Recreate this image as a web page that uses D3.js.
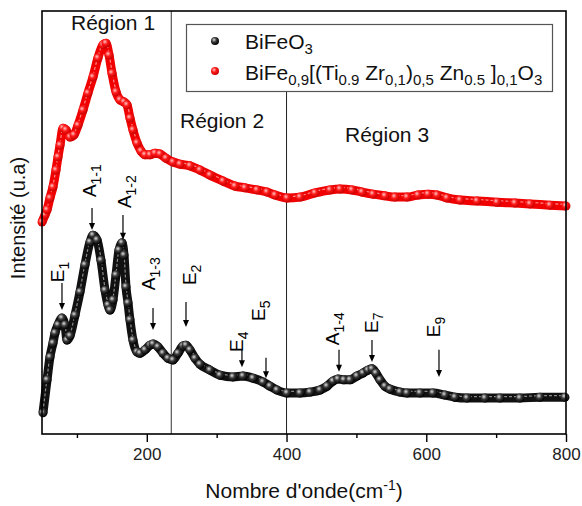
<!DOCTYPE html>
<html>
<head>
<meta charset="utf-8">
<script src="https://cdn.jsdelivr.net/npm/d3@7"></script>
<style>
  html, body { margin: 0; padding: 0; background: #fff; }
  svg { display: block; font-family: Arial, "Liberation Sans", sans-serif; }
</style>
</head>
<body>
<svg id="chart" width="582" height="506"></svg>
<script>
// Raman spectra: wavenumber (cm-1) vs intensity (arbitrary units)
const bfoWave = [51.4, 57.2, 61.4, 65.7, 68.6, 72.9, 78.6, 82.9, 85.8, 90.1, 97.2, 104.4, 111.5, 118.7, 123.0,
  128.7, 134.4, 140.2, 144.5, 147.3, 151.6, 155.9, 160.2, 164.5, 167.4, 170.2, 173.1, 175.9, 180.2, 186.0,
  190.3, 197.4, 204.6, 208.9, 216.0, 223.2, 230.3, 237.5, 244.6, 251.8, 256.1, 261.8, 269.0, 276.1, 290.4,
  304.8, 323.4, 337.7, 352.0, 366.3, 376.3, 386.3, 400.7, 419.3, 433.6, 447.9, 457.9, 466.5, 473.6, 482.2,
  490.8, 500.8, 509.4, 516.6, 522.3, 528.0, 533.8, 540.9, 548.1, 562.4, 572.4, 591.0, 609.6, 626.8, 641.1,
  658.3, 684.0, 705.5, 734.1, 762.7, 798.5];
const bfoInt = [5.0, 12.8, 18.2, 21.5, 23.9, 25.8, 27.4, 25.8, 22.2, 23.2, 28.1, 33.6, 40.0, 45.4, 47.0,
  45.9, 41.1, 34.0, 30.5, 29.3, 31.7, 37.6, 43.5, 45.2, 42.3, 34.8, 31.0, 27.0, 22.2, 19.4,
  19.1, 19.9, 21.0, 21.3, 20.6, 19.1, 17.9, 17.5, 19.1, 20.8, 21.0, 19.9, 17.9, 16.5, 15.1,
  13.9, 13.5, 13.7, 13.2, 12.3, 11.3, 10.4, 9.7, 9.7, 9.9, 10.4, 11.3, 12.5, 13.0, 12.8,
  12.8, 13.7, 14.4, 15.1, 15.4, 14.4, 12.8, 11.3, 10.6, 9.9, 9.7, 9.7, 9.7, 9.2, 8.7,
  8.5, 8.5, 8.5, 8.5, 8.7, 8.7];

const dopedWave = [50.0, 54.3, 57.2, 61.4, 65.7, 70.0, 72.9, 75.8, 80.1, 84.3, 90.1, 95.8, 101.5, 108.7, 115.8,
  123.0, 130.1, 137.3, 141.6, 145.9, 150.2, 155.9, 161.6, 167.4, 171.7, 175.9, 180.2, 186.0, 191.7, 197.4,
  204.6, 211.7, 218.9, 227.5, 237.5, 247.5, 261.8, 276.1, 290.4, 309.1, 326.2, 340.5, 357.7, 372.0, 383.5,
  400.7, 419.3, 440.7, 462.2, 476.5, 493.7, 508.0, 523.7, 540.9, 555.2, 572.4, 588.1, 602.5, 615.3, 629.6,
  648.3, 672.6, 701.2, 726.9, 748.4, 777.0, 799.9];
const dopedInt = [50.1, 51.8, 53.0, 55.8, 58.4, 62.4, 65.5, 68.3, 72.3, 71.9, 70.2, 70.7, 73.0, 76.6, 80.6,
  84.4, 88.9, 92.0, 92.4, 89.6, 85.3, 80.9, 79.0, 78.5, 77.8, 74.7, 71.9, 68.8, 66.9, 66.0,
  66.0, 66.4, 66.2, 65.2, 64.3, 63.8, 63.4, 62.4, 61.2, 59.8, 58.6, 58.2, 57.7, 57.2, 56.5,
  55.8, 56.0, 57.0, 57.7, 57.9, 57.7, 57.2, 56.7, 56.3, 56.0, 56.0, 56.5, 56.7, 56.5, 55.8,
  55.3, 55.1, 54.8, 54.6, 54.4, 54.1, 53.9];

// Phonon mode assignments: base label, subscript, wavenumber, arrow tail/tip and label start (intensity units)
const modeNames = ["E", "A", "A", "A", "E", "E", "E", "A", "E", "E"];
const modeSubs  = ["1", "1-1", "1-2", "1-3", "2", "4", "5", "1-4", "7", "9"];
const modeWave  = [78.6, 121.6, 165.9, 208.9, 256.1, 336.2, 370.6, 475.1, 522.3, 618.2];
const modeTail  = [35.7, 53.4, 51.8, 29.8, 31.2, 19.9, 18.0, 19.9, 22.2, 19.9];
const modeTip   = [29.3, 48.2, 45.9, 24.6, 25.3, 15.8, 13.2, 14.7, 17.0, 13.5];
const modeLabel = [35.9, 56.0, 53.4, 34.0, 35.2, 19.4, 26.7, 21.0, 23.9, 22.9];
// horizontal shift (px) of each rotated label's baseline from its arrow
const modeLabelDx = [2, 4, 8, 2, 10, 1, -1, 0, 6, 1];

// Spectral regions, separated at these wavenumbers
const regionNames = ["Région 1", "Région 2", "Région 3"];
const regionBounds = [235, 400];

const xTicksMajor = [200, 400, 600, 800];
const xTicksMinor = [100, 300, 500, 700];

const svg = d3.select("#chart");
const W = 582, H = 506;
const m = { left: 42, right: 16, top: 11, bottom: 72 };
const x = d3.scaleLinear().domain([50, 800]).range([m.left, W - m.right]);
const y = d3.scaleLinear().domain([0, 100]).range([H - m.bottom, m.top]);

// sphere-like marker gradients
const defs = svg.append("defs");
function sphere(id, hi, mid, lo) {
  const g = defs.append("radialGradient").attr("id", id)
    .attr("cx", "38%").attr("cy", "35%").attr("r", "65%");
  g.append("stop").attr("offset", "0%").attr("stop-color", hi);
  g.append("stop").attr("offset", "45%").attr("stop-color", mid);
  g.append("stop").attr("offset", "100%").attr("stop-color", lo);
}
sphere("ballBlack", "#e0e0e0", "#3a3a3a", "#000");
sphere("ballRed", "#ffc4c4", "#ff1a1a", "#c80000");

// region separators
svg.append("line")
  .attr("x1", x(regionBounds[0])).attr("x2", x(regionBounds[0]))
  .attr("y1", y(100)).attr("y2", y(0))
  .attr("stroke", "#333").attr("stroke-width", 1);
svg.append("line")
  .attr("x1", x(regionBounds[1])).attr("x2", x(regionBounds[1]))
  .attr("y1", 91).attr("y2", y(0))
  .attr("stroke", "#222").attr("stroke-width", 1);

// spectra drawn as dense marker bands
function drawSeries(wave, inten, fill, band, shine) {
  const pts = wave.map((w, i) => [w, inten[i]]);
  const line = d3.line().x(d => x(d[0])).y(d => y(d[1])).curve(d3.curveMonotoneX);
  const g = svg.append("g");
  g.append("path").attr("d", line(pts)).attr("fill", "none")
    .attr("stroke", band).attr("stroke-width", 9).attr("stroke-linejoin", "round");
  g.append("path").attr("d", line(pts)).attr("fill", "none")
    .attr("stroke", shine).attr("stroke-width", 1.2).attr("stroke-dasharray", "3,2")
    .attr("transform", "translate(0,-1.5)");
  g.selectAll("circle").data(pts).join("circle")
    .attr("cx", d => x(d[0])).attr("cy", d => y(d[1])).attr("r", 4.5)
    .attr("fill", fill);
}
drawSeries(dopedWave, dopedInt, "url(#ballRed)", "#f00000", "#ff8a8a");
drawSeries(bfoWave, bfoInt, "url(#ballBlack)", "#111", "#8a8a8a");

// mode annotations: rotated labels and down-pointing arrows
const ann = svg.append("g");
modeNames.forEach((name, i) => {
  const ax = x(modeWave[i]);
  const t = y(modeTail[i]), tip = y(modeTip[i]);
  ann.append("line").attr("x1", ax).attr("x2", ax).attr("y1", t).attr("y2", tip - 5)
    .attr("stroke", "#000").attr("stroke-width", 1.2);
  ann.append("path")
    .attr("d", `M${ax - 3},${tip - 7} L${ax + 3},${tip - 7} L${ax},${tip} Z`)
    .attr("fill", "#000");
  const lx = ax + modeLabelDx[i], ly = y(modeLabel[i]);
  const tx = ann.append("text").attr("transform", `translate(${lx},${ly}) rotate(-90)`)
    .attr("font-size", 19).attr("fill", "#000");
  tx.append("tspan").text(name);
  tx.append("tspan").attr("font-size", 14).attr("dy", 5).text(modeSubs[i]);
});

// region labels
const regionPos = [[71, 30], [180, 128], [345, 142]];
regionNames.forEach((r, i) => {
  svg.append("text").attr("x", regionPos[i][0]).attr("y", regionPos[i][1])
    .attr("font-size", 21).attr("fill", "#111").text(r);
});

// legend
const lg = svg.append("g");
lg.append("rect").attr("x", 186.5).attr("y", 24.5).attr("width", 366).attr("height", 67)
  .attr("fill", "#fff").attr("stroke", "#555").attr("stroke-width", 1.2);
lg.append("circle").attr("cx", 215).attr("cy", 41).attr("r", 4).attr("fill", "url(#ballBlack)");
lg.append("circle").attr("cx", 215).attr("cy", 71).attr("r", 4).attr("fill", "url(#ballRed)");
const l1 = lg.append("text").attr("x", 245).attr("y", 49).attr("font-size", 21).attr("fill", "#111");
l1.append("tspan").text("BiFeO");
l1.append("tspan").attr("font-size", 15).attr("dy", 5).text("3");
const l2 = lg.append("text").attr("x", 245).attr("y", 80).attr("font-size", 21).attr("fill", "#111");
const parts2 = [["BiFe", 0], ["0,9", 1], ["[(Ti", 0], ["0.9", 1], [" Zr", 0], ["0,1", 1], [")", 0], ["0,5", 1],
  [" Zn", 0], ["0.5", 1], [" ]", 0], ["0,1", 1], ["O", 0], ["3", 1]];
let low = false;
parts2.forEach(([s, sub]) => {
  const ts = l2.append("tspan").text(s);
  if (sub) { ts.attr("font-size", 15).attr("dy", low ? 0 : 5); low = true; }
  else { ts.attr("dy", low ? -5 : 0); low = false; }
});

// frame
svg.append("rect").attr("x", m.left).attr("y", m.top)
  .attr("width", W - m.right - m.left).attr("height", H - m.bottom - m.top)
  .attr("fill", "none").attr("stroke", "#000").attr("stroke-width", 1.6);

// x axis: labelled major ticks and unlabelled minor ticks
const axMajor = svg.append("g").attr("transform", `translate(0,${y(0)})`)
  .call(d3.axisBottom(x).tickValues(xTicksMajor).tickSize(8).tickPadding(6).tickFormat(d3.format("d")));
const axMinor = svg.append("g").attr("transform", `translate(0,${y(0)})`)
  .call(d3.axisBottom(x).tickValues(xTicksMinor).tickSize(4).tickFormat(""));
[axMajor, axMinor].forEach(a => {
  a.select(".domain").remove();
  a.selectAll(".tick line").attr("stroke", "#000").attr("stroke-width", 1.4);
});
axMajor.selectAll(".tick text").attr("font-size", 17).attr("fill", "#222")
  .attr("font-family", "Arial, 'Liberation Sans', sans-serif");

// axis titles
const xt = svg.append("text").attr("x", 304).attr("y", 498).attr("text-anchor", "middle")
  .attr("font-size", 21).attr("fill", "#111");
xt.append("tspan").text("Nombre d'onde(cm");
xt.append("tspan").attr("font-size", 14).attr("dy", -8).text("-1");
xt.append("tspan").attr("dy", 8).text(")");

svg.append("text").attr("transform", "translate(25,218) rotate(-90)").attr("text-anchor", "middle")
  .attr("font-size", 20).attr("fill", "#111").text("Intensité (u.a)");
</script>
</body>
</html>
